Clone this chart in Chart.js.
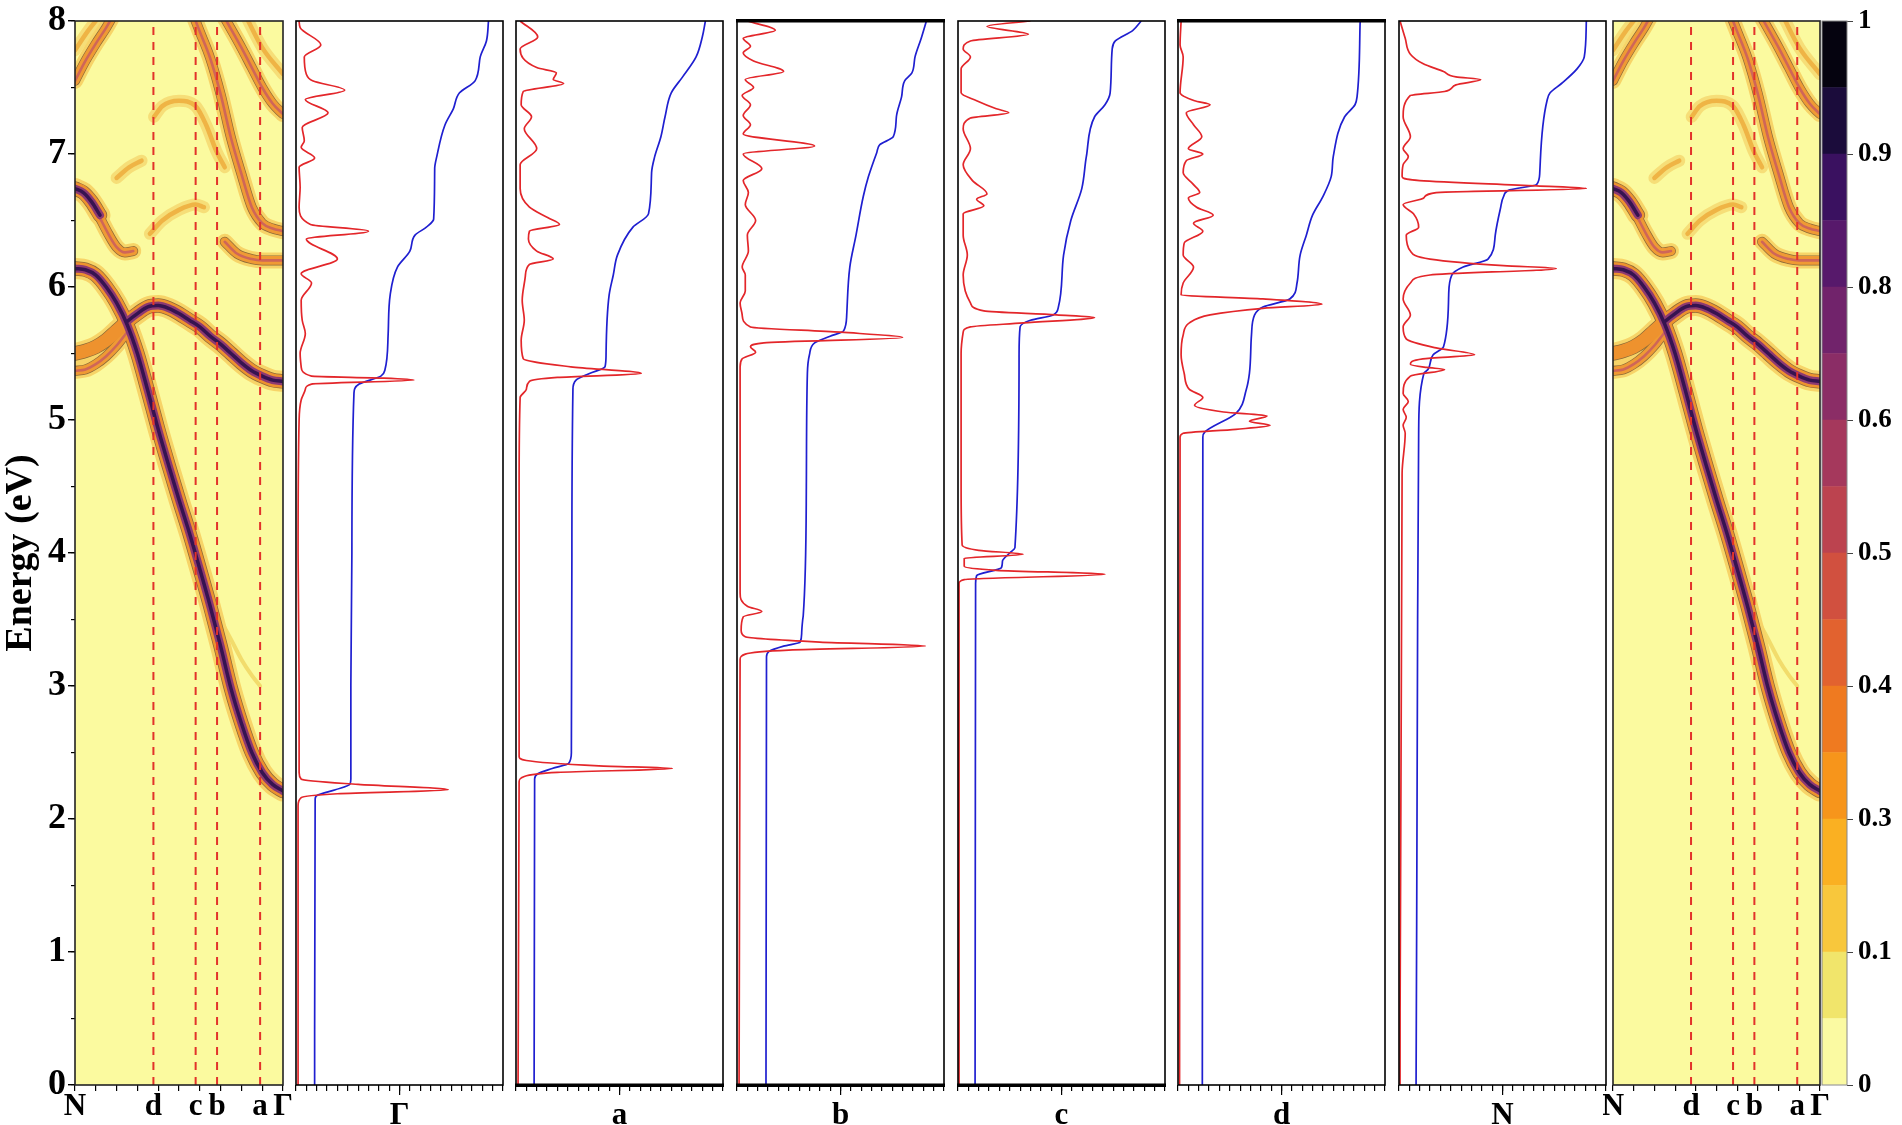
<!DOCTYPE html>
<html>
<head>
<meta charset="utf-8">
<title>Spectral function and DOS</title>
<script src="https://cdn.jsdelivr.net/npm/chart.js@4.4.1/dist/chart.umd.min.js"></script>
<style>
  body { margin: 0; background: #fff; width: 1902px; height: 1125px; overflow: hidden; }
  .box { position: absolute; top: 0; height: 1125px; }
</style>
</head>
<body>
<script>
// ---- k path of the band maps (N -> Gamma) ----
const kPath = [0,0.05,0.1,0.15,0.2,0.25,0.3,0.35,0.4,0.45,0.5,0.55,0.6,0.65,0.7,0.75,0.8,0.85,0.9,0.95,1];
const kMarks = [0, 0.377, 0.58, 0.683, 0.89, 1];
const kNames = ['N', 'd', 'c', 'b', 'a', 'Γ'];
const kDashed = [0.377, 0.58, 0.683, 0.89];

// band energies (eV)
const bandA = [6.14,6.13,6.09,6.0,5.88,5.72,5.5,5.22,4.93,4.66,4.4,4.15,3.88,3.6,3.3,2.98,2.72,2.5,2.35,2.26,2.21];
const bandB = [5.5,5.52,5.55,5.6,5.67,5.74,5.8,5.85,5.86,5.84,5.8,5.75,5.7,5.63,5.57,5.5,5.43,5.37,5.33,5.3,5.29];
const kB2 = [0,0.05,0.1,0.15,0.2,0.25];          const eB2 = [5.37,5.38,5.42,5.48,5.56,5.66];
const kD1 = [0,0.04,0.08,0.12];                  const eD1 = [6.74,6.71,6.64,6.54];
const kD2 = [0.08,0.12,0.16,0.2,0.24,0.28];      const eD2 = [6.64,6.52,6.4,6.3,6.26,6.27];
const kU1 = [0,0.05,0.1,0.15,0.19];              const eU1 = [7.55,7.7,7.83,7.95,8.06];
const kU1b = [0,0.06,0.12];                      const eU1b = [7.78,7.92,8.04];
const kU2 = [0.57,0.6,0.65,0.7,0.75,0.8,0.85,0.9,0.95,1]; const eU2 = [8.04,7.92,7.72,7.45,7.12,6.85,6.6,6.48,6.44,6.42];
const kU3 = [0.71,0.8,0.85,0.9,0.95,1];          const eU3 = [8.05,7.8,7.65,7.5,7.38,7.3];
const kU3b = [0.82,0.9,1];                       const eU3b = [8.04,7.8,7.6];
const kU4 = [0.38,0.42,0.5,0.58,0.63,0.68,0.72]; const eU4 = [7.28,7.36,7.4,7.36,7.22,7.02,6.9];
const kU5 = [0.36,0.42,0.5,0.58,0.62];           const eU5 = [6.4,6.5,6.58,6.62,6.6];
const kU6 = [0.72,0.78,0.85,0.9,1];              const eU6 = [6.34,6.25,6.21,6.2,6.2];
const kU7 = [0.2,0.26,0.32];                     const eU7 = [6.82,6.9,6.95];
const kA2 = [0.58,0.65,0.7,0.75,0.8,0.85,0.89];  const eA2 = [3.95,3.68,3.5,3.35,3.2,3.08,3.0];

// ---- DOS panels: [energy, value] ----
const dosGamma = [[8.0,0.3],[7.95,0.4],[7.82,2.4],[7.73,0.8],[7.6,1.0],[7.55,1.6],[7.48,4.7],[7.41,0.9],[7.31,3.1],[7.2,0.6],[7.1,0.8],[7.05,0.5],[6.97,1.8],[6.9,0.3],[6.75,0.4],[6.6,0.3],[6.47,1.4],[6.42,7.0],[6.36,1.0],[6.21,4.0],[6.1,0.5],[6.03,1.5],[5.9,0.5],[5.75,0.6],[5.65,0.9],[5.5,0.4],[5.4,0.5],[5.33,1.5],[5.315,8.5],[5.30,11.4],[5.27,1.5],[5.23,0.9],[5.15,0.5],[5.0,0.3],[4.0,0.2],[3.0,0.3],[2.35,0.3],[2.3,0.5],[2.26,6.0],[2.22,14.7],[2.19,4.0],[2.16,0.5],[2.1,0.2],[0,0.2]];
const intGamma = [[8.0,18.6],[7.85,18.4],[7.73,17.8],[7.55,17.3],[7.46,15.8],[7.34,15.2],[7.22,14.4],[6.98,13.6],[6.89,13.4],[6.51,13.3],[6.45,12.6],[6.39,11.5],[6.27,11.0],[6.15,9.8],[5.94,9.1],[5.64,8.9],[5.38,8.6],[5.33,8.2],[5.27,6.1],[5.2,5.6],[4.0,5.4],[3.0,5.3],[2.3,5.3],[2.26,5.2],[2.22,3.8],[2.18,2.1],[2.15,1.85],[0,1.8]];

const dosA = [[8.0,0.4],[7.88,2.1],[7.79,0.4],[7.65,2.0],[7.61,3.9],[7.56,3.6],[7.53,4.6],[7.47,0.7],[7.37,0.5],[7.28,1.5],[7.19,0.8],[7.04,2.0],[6.92,0.4],[6.74,0.4],[6.6,1.3],[6.52,3.1],[6.47,4.2],[6.42,1.3],[6.36,1.2],[6.27,2.0],[6.21,3.6],[6.17,1.3],[6.08,0.9],[5.9,0.6],[5.75,0.8],[5.6,0.5],[5.46,0.7],[5.4,5.3],[5.35,12.1],[5.32,4.0],[5.29,1.3],[5.23,1.0],[5.17,0.4],[4.5,0.3],[3.0,0.3],[2.47,0.3],[2.44,1.0],[2.4,8.0],[2.38,15.1],[2.35,4.0],[2.32,0.8],[2.28,0.3],[0,0.2]];
const intA = [[8.0,18.3],[7.88,18.0],[7.73,17.4],[7.58,16.1],[7.46,15.0],[7.28,14.4],[7.13,14.0],[6.98,13.4],[6.86,13.1],[6.55,12.8],[6.45,11.3],[6.24,9.8],[6.09,9.4],[5.94,9.0],[5.49,8.7],[5.4,8.6],[5.35,7.1],[5.3,5.8],[5.23,5.5],[4.0,5.4],[2.5,5.35],[2.42,5.1],[2.38,3.5],[2.34,2.1],[2.3,1.8],[0,1.75]];

const dosB = [[8.0,1.0],[7.93,3.7],[7.87,0.6],[7.81,1.3],[7.76,0.6],[7.7,1.6],[7.62,4.5],[7.56,0.8],[7.5,1.6],[7.44,0.5],[7.37,1.3],[7.29,0.6],[7.22,1.3],[7.15,0.6],[7.06,7.5],[7.0,0.6],[6.89,2.4],[6.8,0.6],[6.71,1.1],[6.62,0.8],[6.5,1.8],[6.39,1.0],[6.27,1.1],[6.15,0.5],[6.09,0.8],[5.97,0.8],[5.88,0.3],[5.79,0.5],[5.7,1.3],[5.66,10.0],[5.62,16.0],[5.58,2.6],[5.55,1.3],[5.51,1.8],[5.46,0.5],[5.4,0.3],[4.5,0.3],[3.7,0.3],[3.6,1.0],[3.56,2.4],[3.52,0.6],[3.42,0.4],[3.37,0.8],[3.33,8.0],[3.30,18.2],[3.27,5.0],[3.24,0.8],[3.2,0.3],[0,0.2]];
const intB = [[8.0,18.3],[7.87,17.8],[7.73,17.2],[7.61,16.9],[7.55,16.2],[7.43,15.9],[7.28,15.4],[7.13,15.1],[7.07,13.8],[7.01,13.5],[6.83,12.7],[6.68,12.2],[6.39,11.5],[6.15,10.9],[5.79,10.6],[5.67,10.3],[5.63,9.0],[5.58,7.5],[5.49,7.0],[5.35,6.8],[4.5,6.7],[3.53,6.4],[3.5,6.35],[3.4,6.25],[3.33,6.1],[3.3,4.5],[3.26,3.1],[3.22,2.85],[0,2.8]];

const dosC = [[8.0,7.0],[7.96,2.8],[7.9,6.8],[7.85,1.2],[7.79,0.5],[7.73,1.2],[7.64,0.3],[7.46,0.3],[7.4,1.8],[7.34,3.7],[7.31,4.9],[7.27,1.2],[7.19,0.5],[7.04,1.2],[6.92,0.5],[6.8,1.4],[6.70,2.8],[6.66,1.8],[6.61,2.5],[6.55,0.5],[6.39,0.5],[6.24,0.9],[6.09,0.5],[5.97,0.7],[5.88,1.2],[5.82,2.5],[5.79,9.5],[5.77,13.2],[5.73,6.3],[5.7,1.2],[5.66,0.5],[5.5,0.3],[4.5,0.3],[4.06,0.4],[4.02,2.0],[3.99,6.3],[3.96,0.6],[3.9,0.6],[3.87,3.7],[3.84,14.2],[3.80,0.6],[3.77,0.1],[0,0.1]];
const intC = [[8.0,17.7],[7.93,16.9],[7.85,15.2],[7.79,14.9],[7.46,14.7],[7.37,14.2],[7.28,13.2],[6.98,12.4],[6.74,11.96],[6.5,10.9],[6.24,10.2],[5.85,9.7],[5.79,9.2],[5.75,7.0],[5.70,6.0],[5.49,5.9],[4.04,5.5],[4.0,5.0],[3.94,4.3],[3.89,4.2],[3.83,1.8],[3.77,1.7],[0,1.65]];

const dosD = [[8.0,0.3],[7.82,0.2],[7.73,0.5],[7.46,0.2],[7.4,1.6],[7.37,3.1],[7.31,0.8],[7.22,1.5],[7.13,2.3],[7.04,1.0],[7.0,2.4],[6.95,0.8],[6.86,0.5],[6.77,1.5],[6.71,2.1],[6.67,1.0],[6.6,1.8],[6.54,3.4],[6.48,1.5],[6.42,2.4],[6.33,0.6],[6.24,0.5],[6.15,1.5],[6.03,0.5],[5.94,0.3],[5.91,8.2],[5.87,13.9],[5.84,8.2],[5.79,3.1],[5.73,1.1],[5.64,0.5],[5.49,0.3],[5.35,0.6],[5.23,1.1],[5.17,2.4],[5.11,1.6],[5.06,4.4],[5.03,8.6],[4.99,6.9],[4.96,8.9],[4.93,5.6],[4.9,0.5],[4.87,0.2],[0,0.15]];
const intD = [[8.0,17.6],[7.43,17.3],[7.37,17.1],[7.28,16.1],[6.98,15.0],[6.83,14.8],[6.68,14.0],[6.54,13.0],[6.39,12.4],[6.24,11.8],[6.03,11.5],[5.91,10.8],[5.85,8.2],[5.79,7.4],[5.64,7.1],[5.35,6.9],[5.23,6.6],[5.05,5.6],[4.91,2.6],[4.87,2.4],[0,2.35]];

const dosN = [[8.0,0.1],[7.87,0.6],[7.75,1.1],[7.68,2.3],[7.62,4.3],[7.58,5.5],[7.56,7.9],[7.52,5.5],[7.47,4.4],[7.44,1.1],[7.28,0.4],[7.13,1.1],[7.04,0.4],[6.98,0.9],[6.92,0.4],[6.83,0.3],[6.80,2.0],[6.76,13.3],[6.74,18.1],[6.71,3.6],[6.67,2.4],[6.62,0.4],[6.55,1.4],[6.45,1.9],[6.39,0.7],[6.27,1.1],[6.21,3.0],[6.16,10.1],[6.14,15.2],[6.09,3.0],[6.03,1.1],[5.91,0.4],[5.79,1.1],[5.7,0.4],[5.61,0.7],[5.54,3.7],[5.49,7.3],[5.46,2.3],[5.42,1.1],[5.395,2.7],[5.38,4.4],[5.33,1.1],[5.2,0.4],[5.14,0.9],[5.08,0.4],[5.02,0.7],[4.96,0.4],[4.9,0.6],[4.6,0.3],[0,0.1]];
const intN = [[8.0,18.1],[7.73,17.9],[7.64,17.2],[7.53,15.7],[7.46,14.6],[7.4,14.3],[6.86,13.6],[6.77,13.3],[6.73,10.7],[6.68,10.1],[6.59,9.8],[6.39,9.3],[6.21,8.6],[6.15,6.2],[6.09,5.1],[5.94,4.8],[5.55,4.3],[5.49,3.3],[5.38,2.8],[5.35,2.4],[4.9,1.9],[3.5,1.8],[0,1.65]];

// ---- colour bar ----
const cbarLabels = ['0', '0.1', '0.3', '0.4', '0.5', '0.6', '0.8', '0.9', '1'];
const cbarColors = ['#fbfaa2','#f1e56b','#f8c73c','#fab022','#f7951b','#ef7a20','#e2622f','#d1503f','#bc434f','#a5385c','#8b2d66','#71236b','#57196b','#3a1160','#1b0c3b','#05030f'];

// ---------------------------------------------------------------
const serif = 'Liberation Serif';
const ink = '#000';

const bandList = [
  { k: kPath, e: bandA, style: 'strong' },
  { k: kPath, e: bandB, style: 'strong', coreFrom: 0.21 },
  { k: kB2, e: eB2, style: 'medium' },
  { k: kD1, e: eD1, style: 'strong' },
  { k: kD2, e: eD2, style: 'medium' },
  { k: kU1, e: eU1, style: 'medium' },
  { k: kU1b, e: eU1b, style: 'weak' },
  { k: kU2, e: eU2, style: 'medium' },
  { k: kU3, e: eU3, style: 'medium' },
  { k: kU3b, e: eU3b, style: 'weak' },
  { k: kU4, e: eU4, style: 'weak' },
  { k: kU5, e: eU5, style: 'weak' },
  { k: kU6, e: eU6, style: 'medium' },
  { k: kU7, e: eU7, style: 'weak' },
  { k: kA2, e: eA2, style: 'faint' }
];

const layerStyles = {
  strong: [['#f7d468', 21], ['#8c6a38', 14.5], ['#ee922e', 13], ['#8d3a72', 8], ['#361350', 3.5]],
  medium: [['#f7d468', 16], ['#8c6a38', 10], ['#ef9a34', 8.6], ['#cf6658', 2.6]],
  weak:   [['#f6de78', 12], ['#efb445', 4.5]],
  faint:  [['#f2dc6c', 4]]
};

const framePlugin = {
  id: 'frame',
  beforeDraw(chart, args, opts) {
    if (!opts.fill) return;
    const a = chart.chartArea, ctx = chart.ctx;
    ctx.save();
    ctx.fillStyle = opts.fill;
    ctx.fillRect(a.left, a.top, a.width, a.height);
    ctx.restore();
  },
  afterDraw(chart, args, opts) {
    const a = chart.chartArea, ctx = chart.ctx;
    ctx.save();
    ctx.strokeStyle = opts.color || ink;
    ctx.lineWidth = opts.width || 1.6;
    ctx.strokeRect(a.left, a.top, a.width, a.height);
    if (opts.heavyTop) ctx.fillRect(a.left - 1, a.top - 2, a.width + 2, 3.5);
    if (opts.heavyBottom) ctx.fillRect(a.left - 1, a.bottom - 1.5, a.width + 2, 3.5);
    ctx.restore();
  }
};

function addBox(left, width) {
  const d = document.createElement('div');
  d.className = 'box';
  d.style.left = left + 'px';
  d.style.width = width + 'px';
  const c = document.createElement('canvas');
  d.appendChild(c);
  document.body.appendChild(d);
  return c;
}

function noPad(s) { s.paddingLeft = 0; s.paddingRight = 0; s.paddingTop = 0; s.paddingBottom = 0; }

const baseOpts = {
  animation: false,
  responsive: true,
  maintainAspectRatio: false,
  events: []
};

function bandChart(canvas, padLeft, padRight, withEnergyAxis) {
  const datasets = [];
  bandList.forEach(b => {
    const pts = b.k.map((k, i) => ({ x: k, y: b.e[i] }));
    layerStyles[b.style].forEach((ly, j) => {
      const ds = {
        data: pts,
        borderColor: ly[0],
        borderWidth: ly[1],
        order: 20 - j,
        pointRadius: 0,
        cubicInterpolationMode: 'monotone',
        borderCapStyle: 'round',
        borderJoinStyle: 'round'
      };
      if (b.coreFrom !== undefined && j >= 3) {
        ds.segment = { borderColor: c => c.p0.parsed.x < b.coreFrom ? 'rgba(0,0,0,0)' : ly[0] };
      }
      datasets.push(ds);
    });
  });
  kDashed.forEach(k => {
    datasets.push({
      data: [{ x: k, y: 0 }, { x: k, y: 8 }],
      borderColor: '#e2322a',
      borderWidth: 2,
      borderDash: [8, 7],
      order: 0,
      pointRadius: 0,
      tension: 0
    });
  });

  const scales = {
    x: {
      type: 'linear', min: 0, max: 1, weight: 0,
      afterFit: s => { s.height = 0; noPad(s); },
      ticks: { display: false, stepSize: 0.1 },
      grid: { drawOnChartArea: false, tickLength: 6, color: ink, lineWidth: 1.2 },
      border: { display: false }
    },
    x2: {
      type: 'linear', min: 0, max: 1, position: 'bottom', weight: 1,
      afterFit: s => { s.height = 40; noPad(s); },
      afterBuildTicks: s => { s.ticks = kMarks.map(v => ({ value: v })); },
      ticks: {
        autoSkip: false, maxRotation: 0, padding: 3, color: ink,
        font: { family: serif, weight: 'bold', size: 31 },
        callback: (v, i) => kNames[i]
      },
      grid: { drawOnChartArea: false, drawTicks: false },
      border: { display: false }
    }
  };
  if (withEnergyAxis) {
    scales.y = {
      type: 'linear', min: 0, max: 8, weight: 0,
      afterFit: s => { s.width = 0; noPad(s); },
      ticks: { display: false, stepSize: 0.5 },
      grid: { drawOnChartArea: false, tickLength: 4, color: ink, lineWidth: 1.2 },
      border: { display: false }
    };
    scales.y2 = {
      type: 'linear', min: 0, max: 8, position: 'left', weight: 1,
      afterFit: s => { s.width = 75; noPad(s); },
      ticks: { stepSize: 1, padding: 2, color: ink, font: { family: serif, weight: 'bold', size: 36 } },
      grid: { drawOnChartArea: false, tickLength: 7, color: ink, lineWidth: 1.4 },
      border: { display: false },
      title: {
        display: true, text: 'Energy (eV)', color: ink, padding: 0,
        font: { family: serif, weight: 'bold', size: 38, lineHeight: 1.1 }
      }
    };
  } else {
    scales.y = { type: 'linear', min: 0, max: 8, display: false };
  }

  return new Chart(canvas, {
    type: 'line',
    data: { datasets },
    options: Object.assign({}, baseOpts, {
      layout: { padding: { left: padLeft, right: padRight, top: 21, bottom: 0 } },
      plugins: { legend: { display: false }, tooltip: { enabled: false }, frame: { fill: '#fbfa9f', color: '#222', width: 1.6 } },
      scales
    }),
    plugins: [framePlugin]
  });
}

function toPts(pairs) {
  return pairs.map(p => ({ x: p[1], y: p[0] })).sort((a, b) => a.y - b.y);
}

function dosChart(canvas, panel) {
  return new Chart(canvas, {
    type: 'line',
    data: {
      datasets: [
        { data: toPts(panel.dos), borderColor: '#e3262a', borderWidth: 1.7, pointRadius: 0, cubicInterpolationMode: 'monotone' },
        { data: toPts(panel.integ), borderColor: '#1f1fd0', borderWidth: 1.7, pointRadius: 0, cubicInterpolationMode: 'monotone' }
      ]
    },
    options: Object.assign({}, baseOpts, {
      indexAxis: 'y',
      layout: { padding: { left: 10, right: 10, top: 21, bottom: 0 } },
      plugins: {
        legend: { display: false }, tooltip: { enabled: false },
        frame: { color: ink, width: 1.6, heavyTop: panel.heavyTop, heavyBottom: panel.heavyBottom }
      },
      scales: {
        y: { type: 'linear', min: 0, max: 8, display: false },
        x: {
          type: 'linear', min: 0, max: 20, weight: 0,
          afterFit: s => { s.height = 0; noPad(s); },
          ticks: { display: false, stepSize: 1 },
          grid: { drawOnChartArea: false, tickLength: 6, color: ink, lineWidth: 1.2 },
          border: { display: false }
        },
        x2: {
          type: 'linear', min: 0, max: 20, position: 'bottom', weight: 1,
          afterFit: s => { s.height = 40; noPad(s); },
          afterBuildTicks: s => { s.ticks = [{ value: 10 }]; },
          ticks: {
            autoSkip: false, maxRotation: 0, padding: 2, color: ink,
            font: { family: serif, weight: 'bold', size: 31 },
            callback: () => panel.name
          },
          grid: { drawOnChartArea: false, tickLength: 10, color: ink, lineWidth: 1.2 },
          border: { display: false }
        }
      }
    }),
    plugins: [framePlugin]
  });
}

function colorBar(canvas) {
  return new Chart(canvas, {
    type: 'bar',
    data: {
      labels: [''],
      datasets: cbarColors.map(c => ({ data: [1], backgroundColor: c, borderWidth: 0, barPercentage: 1, categoryPercentage: 1 }))
    },
    options: Object.assign({}, baseOpts, {
      layout: { padding: { left: 10, right: 0, top: 21, bottom: 40 } },
      plugins: { legend: { display: false }, tooltip: { enabled: false }, frame: { color: '#888', width: 1 } },
      scales: {
        x: { display: false, stacked: true },
        y: {
          stacked: true, min: 0, max: 16, position: 'right',
          afterFit: s => { s.width = 55; noPad(s); },
          ticks: {
            stepSize: 2, padding: 5, color: ink,
            font: { family: serif, weight: 'bold', size: 27 },
            callback: v => cbarLabels[v / 2]
          },
          grid: { drawOnChartArea: false, tickLength: 6, color: '#444', lineWidth: 1 },
          border: { display: false }
        }
      }
    }),
    plugins: [framePlugin]
  });
}

// ---- layout ----
bandChart(addBox(0, 293), 0, 10, true);

const dosPanels = [
  { left: 296,  name: 'Γ', dos: dosGamma, integ: intGamma },
  { left: 516,  name: 'a', dos: dosA, integ: intA, heavyBottom: true },
  { left: 737,  name: 'b', dos: dosB, integ: intB, heavyTop: true, heavyBottom: true },
  { left: 958,  name: 'c', dos: dosC, integ: intC, heavyBottom: true },
  { left: 1178, name: 'd', dos: dosD, integ: intD, heavyTop: true },
  { left: 1399, name: 'N', dos: dosN, integ: intN }
];
dosPanels.forEach(p => dosChart(addBox(p.left - 10, 207 + 20), p));

bandChart(addBox(1603, 227), 10, 10, false);
colorBar(addBox(1812, 90));
</script>
</body>
</html>
